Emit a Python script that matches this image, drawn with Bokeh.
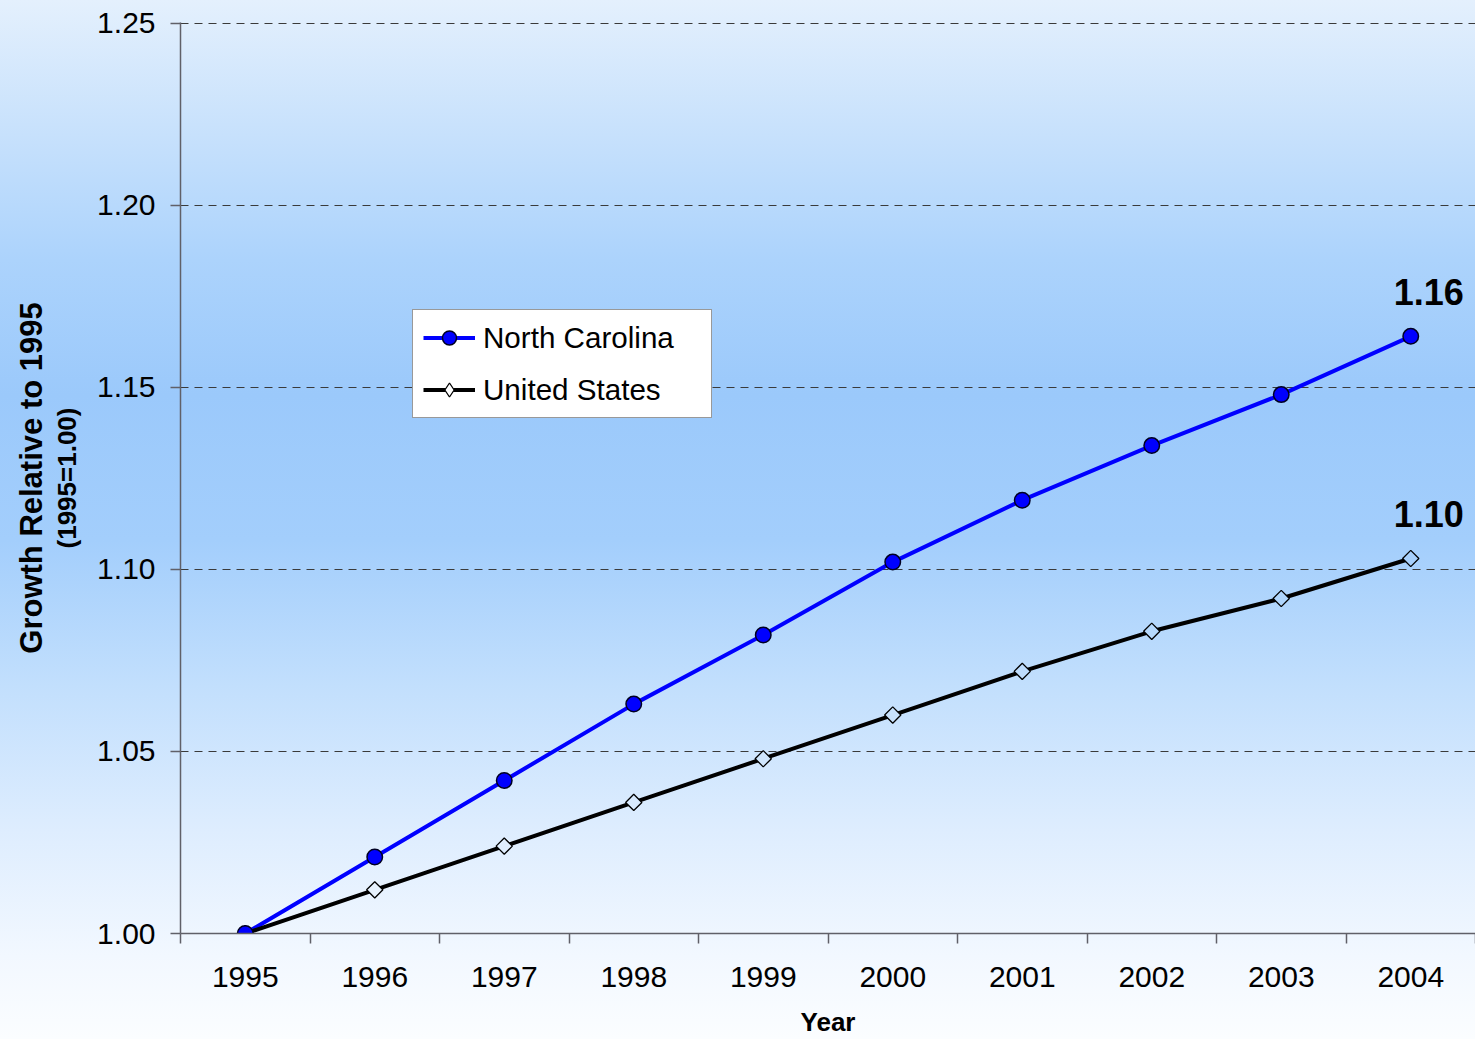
import math
from bokeh.plotting import figure
from bokeh.models import (Range1d, FixedTicker, NumeralTickFormatter, LinearAxis,
                          Legend, LegendItem, ColumnDataSource)
from bokeh.core.properties import value
from bokeh.embed import file_html
from bokeh.resources import INLINE

# ---- data ----
years = ["1995", "1996", "1997", "1998", "1999", "2000", "2001", "2002", "2003", "2004"]
north_carolina = [1.000, 1.021, 1.042, 1.063, 1.082, 1.102, 1.119, 1.134, 1.148, 1.164]
united_states = [1.000, 1.012, 1.024, 1.036, 1.048, 1.060, 1.072, 1.083, 1.092, 1.103]
y_ticks = [1.00, 1.05, 1.10, 1.15, 1.20, 1.25]
end_labels = ["1.16", "1.10"]

FONT = "Liberation Sans"

idx = list(range(len(years)))

p = figure(width=1475, height=1039, output_backend="svg", toolbar_location=None,
           x_range=Range1d(-0.5, len(years) - 0.5),
           y_range=Range1d(y_ticks[0], y_ticks[-1] + 0.0002),
           min_border_left=180, min_border_right=0, min_border_top=22, min_border_bottom=106)
p.border_fill_color = None
p.background_fill_color = None
p.outline_line_color = None
p.styles = {"background": "linear-gradient(to bottom, #e4f0fd 0%, #c9e2fc 12%, #acd3fc 25%, "
                          "#9bc9fb 38%, #a3cefc 52%, #c2dffd 66%, #deedfe 80%, #f2f8ff 92%, #fbfdff 100%)"}

# axes
xa = p.xaxis[0]
xa.ticker = FixedTicker(ticks=idx, minor_ticks=[i - 0.5 for i in range(len(years) + 1)])
xa.major_label_overrides = {i: y for i, y in zip(idx, years)}
xa.major_tick_line_color = None
xa.minor_tick_out = 10
xa.minor_tick_in = 0
xa.minor_tick_line_color = "#606068"
xa.minor_tick_line_width = 1.5
xa.axis_line_color = "#606068"
xa.axis_line_width = 1.5
xa.major_label_text_font = FONT
xa.major_label_text_font_size = "30px"
xa.major_label_text_color = "black"
xa.major_label_standoff = 23
xa.axis_label = "Year"
xa.axis_label_text_font = FONT
xa.axis_label_text_font_size = "26px"
xa.axis_label_text_font_style = "bold"
xa.axis_label_text_color = "black"
xa.axis_label_standoff = 17

ya = p.yaxis[0]
ya.ticker = FixedTicker(ticks=y_ticks)
ya.formatter = NumeralTickFormatter(format="0.00")
ya.major_tick_out = 10
ya.major_tick_in = 0
ya.minor_tick_line_color = None
ya.major_tick_line_color = "#606068"
ya.major_tick_line_width = 1.5
ya.axis_line_color = "#606068"
ya.axis_line_width = 1.5
ya.major_label_text_font = FONT
ya.major_label_text_font_size = "30px"
ya.major_label_text_color = "black"
ya.major_label_standoff = 15
ya.axis_label = "(1995=1.00)"
ya.axis_label_text_font = FONT
ya.axis_label_text_font_size = "26px"
ya.axis_label_text_font_style = "bold"
ya.axis_label_text_color = "black"
ya.axis_label_standoff = 12

outer = LinearAxis(ticker=FixedTicker(ticks=[]), axis_label="Growth Relative to 1995",
                   axis_line_color=None, major_tick_out=0, major_tick_in=0,
                   minor_tick_out=0, minor_tick_in=0, major_label_standoff=0,
                   axis_label_standoff=1, axis_label_text_font=FONT,
                   axis_label_text_font_size="31px", axis_label_text_font_style="bold",
                   axis_label_text_color="black")
p.add_layout(outer, "left")

p.xgrid.grid_line_color = None
p.ygrid.grid_line_color = "#3a3a3a"
p.ygrid.grid_line_dash = "8 6"
p.ygrid.grid_line_width = 1

# background colour under each marker (so diamonds look "hollow" like the reference)
stops = [(0.0, (0xe4, 0xf0, 0xfd)), (0.12, (0xc9, 0xe2, 0xfc)), (0.25, (0xac, 0xd3, 0xfc)),
         (0.38, (0x9b, 0xc9, 0xfb)), (0.52, (0xa3, 0xce, 0xfc)), (0.66, (0xc2, 0xdf, 0xfd)),
         (0.80, (0xde, 0xed, 0xfe)), (0.92, (0xf2, 0xf8, 0xff)), (1.0, (0xfb, 0xfd, 0xff))]


def bg_at(v):
    py = 22 + (y_ticks[-1] - v) / (y_ticks[-1] - y_ticks[0]) * 911
    t = py / 1039
    for (t0, c0), (t1, c1) in zip(stops[:-1], stops[1:]):
        if t0 <= t <= t1:
            f = (t - t0) / (t1 - t0)
            return "#%02x%02x%02x" % tuple(int(round(a + (b - a) * f)) for a, b in zip(c0, c1))
    return "#ffffff"


src = ColumnDataSource(dict(x=idx, nc=north_carolina, us=united_states,
                            usfill=[bg_at(v) for v in united_states]))

nc_line = p.line("x", "nc", source=src, line_color="#0000ff", line_width=4)
us_line = p.line("x", "us", source=src, line_color="black", line_width=4)
us_mark = p.scatter("x", "us", source=src, marker="square", angle=math.pi / 4, size=11.5,
                    fill_color="usfill", line_color="black", line_width=1.3)
nc_mark = p.scatter("x", "nc", source=src, marker="circle", size=15.5,
                    fill_color="#0000ff", line_color="#000022", line_width=1.5)

# legend-only diamond (legend glyphs ignore marker angle); NaN point draws nothing on the plot
us_legend_mark = p.scatter(x=[float("nan")], y=[float("nan")], marker="diamond", size=19,
                           fill_color="white", line_color="black", line_width=1.3)

# end value labels
lab_src = ColumnDataSource(dict(x=[idx[-1], idx[-1]], y=[north_carolina[-1], united_states[-1]],
                                t=end_labels))
p.text("x", "y", text="t", source=lab_src, x_offset=18, y_offset=-44,
       text_align="center", text_baseline="middle", text_font=value(FONT),
       text_font_size="36px", text_font_style="bold", text_color="black")

legend = Legend(items=[LegendItem(label="North Carolina", renderers=[nc_line, nc_mark]),
                       LegendItem(label="United States", renderers=[us_line, us_legend_mark])],
                location=(232, 515), orientation="vertical")
legend.padding = 10
legend.spacing = 17
legend.margin = 0
legend.glyph_width = 52
legend.glyph_height = 35
legend.label_height = 35
legend.label_width = 218
legend.label_standoff = 8
legend.label_text_font = FONT
legend.label_text_font_size = "29.6px"
legend.label_text_color = "black"
legend.border_line_color = "#333333"
legend.border_line_width = 1
legend.background_fill_color = "white"
legend.background_fill_alpha = 1.0
p.add_layout(legend, "center")

open("out.html", "w").write(file_html(p, INLINE))
